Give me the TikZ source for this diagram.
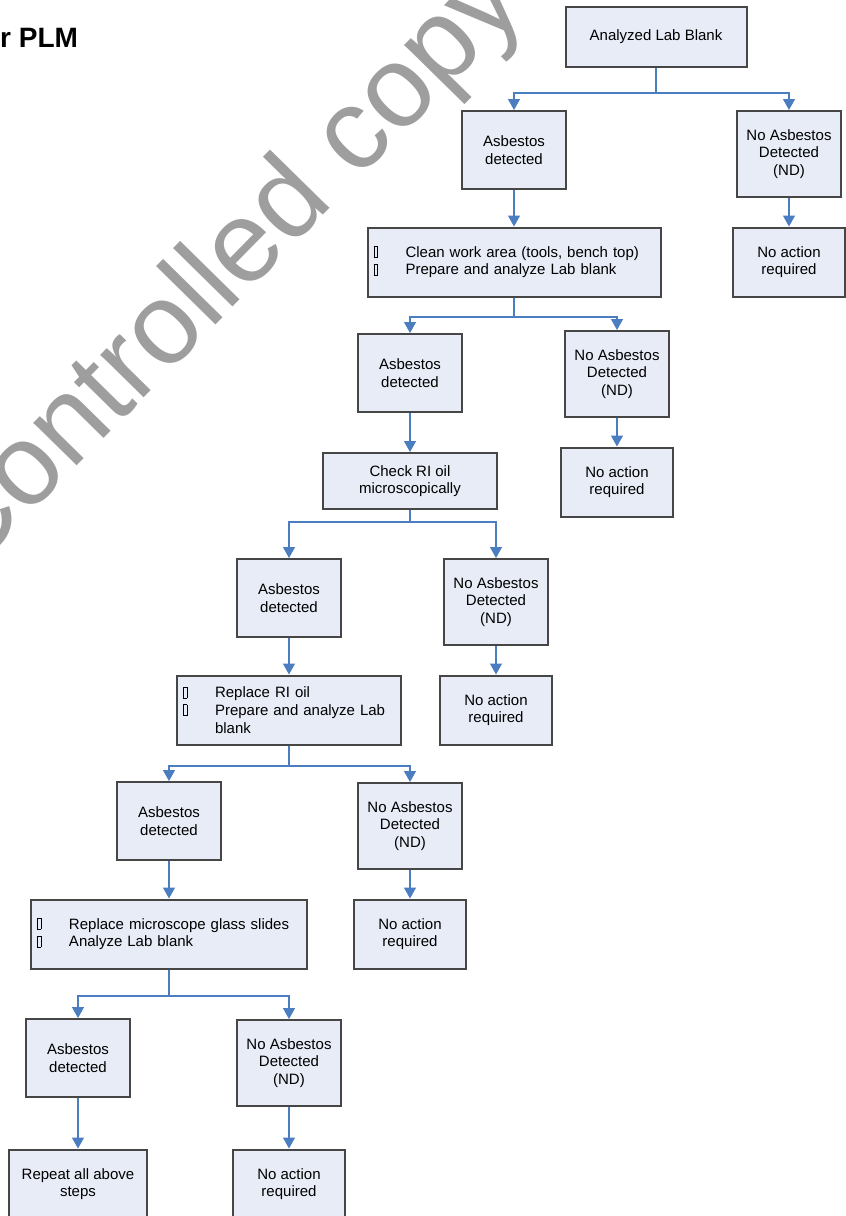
\documentclass[tikz,border=0pt]{standalone}
\usepackage{fontspec}
\setmainfont{Liberation Sans}
\usetikzlibrary{arrows.meta}

\definecolor{boxfill}{RGB}{231,236,246}
\definecolor{boxline}{RGB}{70,70,70}
\definecolor{linkblue}{RGB}{74,126,193}
\definecolor{stampgray}{RGB}{158,158,158}

\setlength{\fboxsep}{0pt}
\setlength{\fboxrule}{0.6pt}
\newcommand{\gbox}{\makebox[32pt][l]{\fbox{\rule{0pt}{10.5pt}\hspace{3pt}}}}
\newcommand{\gskip}{\hspace*{32pt}}

\begin{document}
\begin{tikzpicture}[x=1pt, y=-1pt,
    box/.style={draw=boxline, fill=boxfill, line width=2pt, align=center, inner sep=2pt,
        font=\fontsize{15}{17.7}\selectfont},
    detbox/.style={box, minimum width=104pt, minimum height=78pt},
    ndbox/.style={box, minimum width=104pt, minimum height=86pt},
    actbox/.style={box, minimum width=112pt, minimum height=69pt},
    listbox/.style={box, align=left, inner xsep=6pt, inner ysep=0pt, minimum height=69pt},
    link/.style={draw=linkblue, line width=1.3pt},
    arr/.style={link, -{Triangle[width=12pt,length=11pt]}}]
    \path[use as bounding box, fill=white] (0,0) rectangle (846,1216);
    \clip (0,0) rectangle (846,1216);

    \node[font=\fontsize{115}{115}\selectfont, text=stampgray, rotate=45.5] (stamp) at (227,271) {Controlled copy};
    \node[anchor=base west, inner sep=0pt, font=\bfseries\fontsize{28}{28}\selectfont] (title) at (0,47) {r PLM};

    \node[box, minimum width=181pt, minimum height=60pt] (blank) at (656,37) {Analyzed Lab Blank};
    \node[detbox] (det1) at (514,150) {Asbestos\\detected};
    \node[ndbox] (nd1) at (789,154) {No Asbestos\\Detected\\(ND)};
    \node[actbox] (act1) at (789,262) {No action\\required};
    \node[listbox, text width=281pt] (clean) at (514,262) {\gbox Clean work area (tools, bench top)\\\gbox Prepare and analyze Lab blank};

    \node[detbox] (det2) at (410,373) {Asbestos\\detected};
    \node[ndbox] (nd2) at (617,374) {No Asbestos\\Detected\\(ND)};
    \node[actbox] (act2) at (617,482) {No action\\required};
    \node[box, minimum width=174pt, minimum height=56pt] (check) at (410,481) {Check RI oil\\microscopically};

    \node[detbox] (det3) at (289,598) {Asbestos\\detected};
    \node[ndbox] (nd3) at (496,602) {No Asbestos\\Detected\\(ND)};
    \node[actbox] (act3) at (496,710) {No action\\required};
    \node[listbox, text width=212pt] (repoil) at (289,710) {\gbox Replace RI oil\\\gbox Prepare and analyze Lab\\\gskip blank};

    \node[detbox] (det4) at (169,821) {Asbestos\\detected};
    \node[ndbox] (nd4) at (410,826) {No Asbestos\\Detected\\(ND)};
    \node[actbox] (act4) at (410,934) {No action\\required};
    \node[listbox, text width=264pt] (slides) at (169,934) {\gbox Replace microscope glass slides\\\gbox Analyze Lab blank};

    \node[detbox] (det5) at (78,1058) {Asbestos\\detected};
    \node[ndbox] (nd5) at (289,1063) {No Asbestos\\Detected\\(ND)};
    \node[box, minimum width=138pt, minimum height=69pt] (rep) at (78,1184) {Repeat all above\\steps};
    \node[actbox] (act5) at (289,1184) {No action\\required};

    \coordinate (j1) at (656,93);
    \coordinate (j2) at (514,317);
    \coordinate (j3) at (410,522);
    \coordinate (j4) at (289,766);
    \coordinate (j5) at (169,996);

    \draw[link] (blank) -- (j1);
    \draw[arr] (j1) -| (det1.north);
    \draw[arr] (j1) -| (nd1.north);
    \draw[arr] (det1) -- (clean);
    \draw[arr] (nd1) -- (act1);

    \draw[link] (clean) -- (j2);
    \draw[arr] (j2) -| (det2.north);
    \draw[arr] (j2) -| (nd2.north);
    \draw[arr] (det2) -- (check);
    \draw[arr] (nd2) -- (act2);

    \draw[link] (check) -- (j3);
    \draw[arr] (j3) -| (det3.north);
    \draw[arr] (j3) -| (nd3.north);
    \draw[arr] (det3) -- (repoil);
    \draw[arr] (nd3) -- (act3);

    \draw[link] (repoil) -- (j4);
    \draw[arr] (j4) -| (det4.north);
    \draw[arr] (j4) -| (nd4.north);
    \draw[arr] (det4) -- (slides);
    \draw[arr] (nd4) -- (act4);

    \draw[link] (slides) -- (j5);
    \draw[arr] (j5) -| (det5.north);
    \draw[arr] (j5) -| (nd5.north);
    \draw[arr] (det5) -- (rep);
    \draw[arr] (nd5) -- (act5);
\end{tikzpicture}
\end{document}
